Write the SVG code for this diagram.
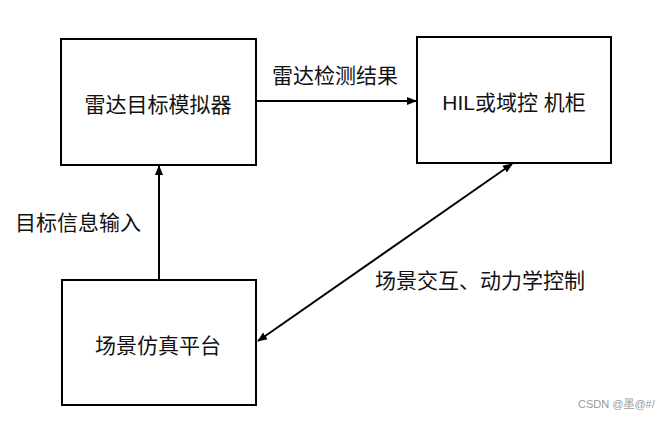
<svg xmlns="http://www.w3.org/2000/svg" width="672" height="431" viewBox="0 0 672 431">
<defs>
<marker id="ah" viewBox="0 0 10 10" refX="9" refY="5" markerWidth="5" markerHeight="5" orient="auto-start-reverse" markerUnits="strokeWidth">
<path d="M0,1 L10,5 L0,9 z" fill="#000"/>
</marker>
<style>
.box{fill:#fff;stroke:#000;stroke-width:2}
.t{font-family:"Liberation Sans","Noto Sans CJK SC",sans-serif;font-size:21px;fill:#111;text-anchor:middle;dominant-baseline:central}
.c{stroke:#000;stroke-width:2;fill:none}
.wm{font-family:"Liberation Sans","Noto Sans CJK SC",sans-serif;font-size:11px;fill:#999}
</style>
</defs>
<rect width="672" height="431" fill="#fff"/>
<g id="radar-sim">
<rect class="box" x="61" y="39" width="195" height="126"/>
<text class="t" x="158" y="104">雷达目标模拟器</text>
</g>
<g id="hil">
<rect class="box" x="417" y="37" width="194" height="126"/>
<text class="t" x="514" y="102">HIL或域控 机柜</text>
</g>
<g id="scene-sim">
<rect class="box" x="62" y="280" width="194" height="125"/>
<text class="t" x="158" y="345">场景仿真平台</text>
</g>
<g id="connectors">
<line class="c" x1="256" y1="101" x2="416" y2="101" marker-end="url(#ah)"/>
<line class="c" x1="159" y1="280" x2="159" y2="166" marker-end="url(#ah)"/>
<line class="c" x1="258" y1="341" x2="512" y2="164" marker-start="url(#ah)" marker-end="url(#ah)"/>
</g>
<g id="labels">
<text class="t" x="335" y="75">雷达检测结果</text>
<text class="t" x="78" y="222">目标信息输入</text>
<text class="t" x="480" y="280">场景交互、动力学控制</text>
</g>
<text class="wm" x="578" y="408">CSDN @墨@#/</text>
</svg>
